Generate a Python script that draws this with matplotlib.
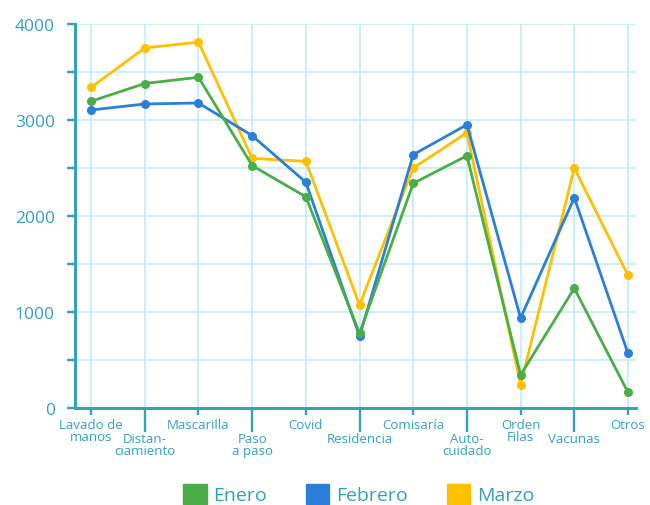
import numpy as np
import matplotlib
matplotlib.use('Agg')
from matplotlib import pyplot as plt
from matplotlib.patches import Patch

plt.rcParams['font.family'] = ['Open Sans', 'DejaVu Sans']

categorias = ["Lavado de\nmanos", "Distan-\nciamiento", "Mascarilla", "Paso\na paso",
              "Covid", "Residencia", "Comisaría", "Auto-\ncuidado", "Orden\nFilas",
              "Vacunas", "Otros"]
enero = [3195, 3380, 3445, 2525, 2200, 778, 2340, 2628, 344, 1247, 163]
febrero = [3104, 3167, 3177, 2837, 2351, 747, 2639, 2951, 937, 2191, 569]
marzo = [3340, 3750, 3812, 2600, 2569, 1073, 2500, 2868, 240, 2500, 1382]

verde = '#4aad48'
azul = '#2b7fd9'
amarillo = '#ffc000'
texto = '#35a0ba'
eje = '#35a2b8'
rejilla = '#c6eef6'

fig = plt.figure(figsize=(6.5, 5.06), dpi=100)
ax = fig.add_axes([0.1154, 0.1917, 0.8631, 0.7589])

x = np.arange(len(categorias))
for serie, color in [(marzo, amarillo), (febrero, azul), (enero, verde)]:
	ax.plot(x, serie, color=color, lw=2.0, marker='o', ms=5.5, zorder=3, clip_on=False)

ax.set_xlim(-0.3, 10.15)
ax.set_ylim(0, 4000)

# ticks pares e impares con distinto largo
pares = x[::2]
impares = x[1::2]
ax.set_xticks(pares, [categorias[i] for i in pares])
ax.set_xticks(impares, [categorias[i] for i in impares], minor=True)
ax.tick_params(axis='x', which='major', length=5, width=1.7, color=eje, pad=2,
               labelsize=9.5, labelcolor=texto)
ax.tick_params(axis='x', which='minor', length=17, width=1.7, color=eje, pad=0,
               labelsize=9.5, labelcolor=texto)
for lab in ax.get_xticklabels(minor=False) + ax.get_xticklabels(minor=True):
	lab.set_linespacing(0.9)

ax.set_yticks([0, 1000, 2000, 3000, 4000])
ax.set_yticks([500, 1500, 2500, 3500], minor=True)
ax.tick_params(axis='y', which='both', length=5.5, width=1.7, color=eje, pad=9,
               labelsize=12.5, labelcolor=texto)

ax.grid(True, which='both', color=rejilla, lw=1.3, zorder=0)
ax.set_axisbelow(True)
for s in ['top', 'right']:
	ax.spines[s].set_visible(False)
for s in ['left', 'bottom']:
	ax.spines[s].set_color(eje)
	ax.spines[s].set_linewidth(2.2)

handles = [Patch(color=verde, label='Enero'), Patch(color=azul, label='Febrero'),
           Patch(color=amarillo, label='Marzo')]
leg = fig.legend(handles=handles, loc='center', bbox_to_anchor=(0.552, 0.022), ncol=3,
                 frameon=False, fontsize=14, handlelength=1.2, handleheight=1.2,
                 columnspacing=2.0, handletextpad=0.35)
for t in leg.get_texts():
	t.set_color(texto)

plt.savefig("out.png", dpi=100)
